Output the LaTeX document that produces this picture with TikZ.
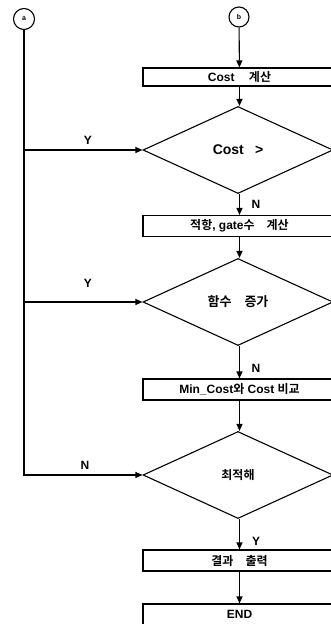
\documentclass[tikz,border=0pt]{standalone}
\usepackage{fontspec}
\setmainfont{Liberation Sans}
\newfontfamily\kr{Noto Sans CJK KR}[BoldFont={Noto Sans CJK KR Bold}]
\usetikzlibrary{shapes.geometric,arrows.meta}
\begin{document}
\begin{tikzpicture}[x=1pt,y=-1pt,
  line width=1.1pt,
  arr/.style={-{Triangle[length=7pt,width=6pt]}},
  conn/.style={draw,circle,minimum size=21pt,inner sep=0pt,font=\bfseries\fontsize{7}{8}\selectfont},
  procbox/.style={draw,rectangle,minimum width=193pt,minimum height=20pt,inner sep=0pt,font=\bfseries\fontsize{12}{13}\selectfont},
  decision/.style={draw,diamond,minimum width=190pt,minimum height=87pt,inner sep=0pt,font=\bfseries\fontsize{14}{15}\selectfont},
  lbl/.style={font=\bfseries\fontsize{12}{13}\selectfont,inner sep=0pt}]
\useasboundingbox (0,0) rectangle (331,624);
\clip (0,0) rectangle (331,624);
\node[conn] (a) at (24,19) {a};
\node[conn,minimum size=20pt] (b) at (239,17) {b};
\node[procbox,minimum height=18pt] (p1) at (239.5,77) {Cost\hspace{1.2em}{\kr 계산}};
\node[decision] (d1) at (238,150) {Cost\hspace{0.8em}>};
\node[procbox,minimum height=21pt] (p2) at (239.5,226) {{\kr 적항}, gate{\kr 수}\hspace{1em}{\kr 계산}};
\node[decision] (d2) at (238,302) {\kr\fontsize{13}{14}\selectfont 함수\hspace{1em}증가};
\node[procbox,minimum height=21pt] (p3) at (239.5,389.5) {Min\_Cost{\kr 와} Cost {\kr 비교}};
\node[decision] (d3) at (238,475) {\kr\fontsize{12}{13}\selectfont 최적해};
\node[procbox,minimum height=21pt] (p4) at (239.5,560.5) {\kr 결과\hspace{1em}출력};
\node[procbox,minimum height=21pt] (p5) at (239.5,614.5) {END};
\draw[arr] (b) -- (p1);
\draw[arr] (p1) -- (p1.south |- d1.north);
\draw[arr] (d1.south -| p2.north) -- (p2.north);
\draw[arr] (p2) -- (p2.south |- d2.north);
\draw[arr] (d2.south -| p3.north) -- (p3.north);
\draw[arr] (p3) -- (p3.south |- d3.north);
\draw[arr] (d3.south -| p4.north) -- (p4.north);
\draw[arr] (p4) -- (p5);
\coordinate (j1) at (a.south |- d1.west);
\coordinate (j2) at (a.south |- d2.west);
\draw[arr] (a.south) |- (d3.west);
\draw[arr] (j1) -- (d1.west);
\draw[arr] (j2) -- (d2.west);
\node[lbl] (y1) at (88,140) {Y};
\node[lbl] (y2) at (88,283) {Y};
\node[lbl] (n3) at (85,465) {N};
\node[lbl] (n1) at (256,204) {N};
\node[lbl] (n2) at (256,368) {N};
\node[lbl] (y3) at (256,541) {Y};
\end{tikzpicture}
\end{document}
